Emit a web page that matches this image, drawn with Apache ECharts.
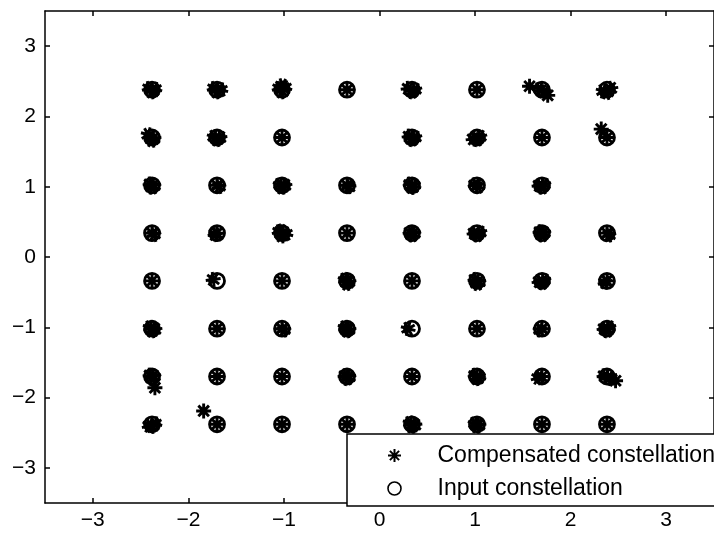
<!DOCTYPE html>
<html>
<head>
<meta charset="utf-8">
<script src="https://cdn.jsdelivr.net/npm/echarts@6/dist/echarts.min.js"></script>
<style>
  html, body { margin: 0; padding: 0; background: #fff; }
  #main { width: 714px; height: 538px; }
</style>
</head>
<body>
<div id="main"></div>
<script>
// constellation levels (both axes) and the two grid points with no input symbol
var levels = [-2.38, -1.70, -1.02, -0.34, 0.34, 1.02, 1.70, 2.38];
var missingInput = [[-0.34, 1.70], [2.38, 1.02]];
var tickValues = [-3, -2, -1, 0, 1, 2, 3];

// compensated points, read row by row from the top (tight clusters give the dark blobs)
var compensated = [
  // y = 2.38
  [-2.41, 2.40], [-2.35, 2.39], [-2.38, 2.35],
  [-1.73, 2.40], [-1.66, 2.38], [-1.70, 2.35],
  [-1.05, 2.40], [-0.99, 2.41], [-1.02, 2.35], [-1.02, 2.44],
  [-0.34, 2.38],
  [0.30, 2.40], [0.37, 2.38], [0.34, 2.35],
  [1.02, 2.38],
  [1.57, 2.43], [1.68, 2.39], [1.72, 2.35], [1.76, 2.30],
  [2.34, 2.36], [2.42, 2.40], [2.38, 2.34],
  // y = 1.70
  [-2.42, 1.74], [-2.36, 1.69], [-2.38, 1.66],
  [-1.73, 1.71], [-1.67, 1.70], [-1.70, 1.67],
  [-1.02, 1.70],
  [0.31, 1.72], [0.37, 1.70], [0.34, 1.67],
  [0.98, 1.68], [1.05, 1.71], [1.02, 1.67],
  [1.70, 1.70],
  [2.32, 1.82], [2.38, 1.70],
  // y = 1.02
  [-2.40, 1.04], [-2.36, 1.01], [-2.38, 0.99],
  [-1.70, 1.02], [-1.68, 1.00],
  [-1.04, 1.03], [-0.99, 1.02], [-1.02, 0.99],
  [-0.34, 1.02], [-0.32, 1.00],
  [0.32, 1.04], [0.36, 1.01], [0.34, 0.99],
  [1.00, 1.03], [1.03, 1.00],
  [1.67, 1.02], [1.72, 1.03], [1.70, 0.99],
  // y = 0.34
  [-2.38, 0.34], [-2.36, 0.32],
  [-1.70, 0.34], [-1.72, 0.32],
  [-1.05, 0.36], [-0.98, 0.33], [-1.02, 0.30], [-1.03, 0.37],
  [-0.34, 0.34],
  [0.32, 0.35], [0.36, 0.33], [0.34, 0.31],
  [0.99, 0.34], [1.05, 0.35], [1.02, 0.31],
  [1.68, 0.36], [1.72, 0.34], [1.70, 0.31],
  [2.38, 0.34], [2.40, 0.31],
  // y = -0.34
  [-2.38, -0.34],
  [-1.74, -0.32],
  [-1.02, -0.34],
  [-0.36, -0.32], [-0.32, -0.35], [-0.34, -0.38],
  [0.34, -0.34],
  [1.00, -0.32], [1.04, -0.36], [1.02, -0.38],
  [1.67, -0.35], [1.72, -0.33], [1.70, -0.37],
  [2.38, -0.34], [2.36, -0.36],
  // y = -1.02
  [-2.40, -1.00], [-2.35, -1.03], [-2.38, -1.05],
  [-1.70, -1.02],
  [-1.02, -1.02], [-1.00, -1.04],
  [-0.36, -1.00], [-0.32, -1.03], [-0.34, -1.05],
  [0.30, -1.02],
  [1.02, -1.02],
  [1.70, -1.02], [1.68, -1.04],
  [2.35, -1.02], [2.40, -1.00], [2.38, -1.05],
  // y = -1.70
  [-2.40, -1.68], [-2.36, -1.70], [-2.38, -1.73], [-2.35, -1.86],
  [-1.70, -1.70],
  [-1.02, -1.70],
  [-0.36, -1.69], [-0.32, -1.71], [-0.34, -1.73],
  [0.34, -1.70],
  [1.00, -1.68], [1.04, -1.71], [1.02, -1.73],
  [1.66, -1.72], [1.70, -1.70],
  [2.35, -1.69], [2.40, -1.71], [2.42, -1.73], [2.47, -1.76],
  // y = -2.38
  [-2.41, -2.40], [-2.35, -2.37], [-2.38, -2.41],
  [-1.70, -2.38], [-1.84, -2.19],
  [-1.02, -2.38],
  [-0.34, -2.38],
  [0.32, -2.36], [0.37, -2.39], [0.34, -2.41],
  [1.00, -2.37], [1.04, -2.39], [1.02, -2.41],
  [1.70, -2.38],
  [2.38, -2.38]
];

var inputPts = [];
levels.forEach(function (y) {
  levels.forEach(function (x) {
    var skip = missingInput.some(function (m) { return m[0] === x && m[1] === y; });
    if (!skip) inputPts.push([x, y]);
  });
});

var asterisk = 'path://M0,-10L0,10M-10,0L10,0M-7.07,-7.07L7.07,7.07M-7.07,7.07L7.07,-7.07';
var fontFam = '"Liberation Sans", Arial, sans-serif';

function fmt(v) {
  return v < 0 ? '\u2212' + Math.abs(v) : String(v);
}

// distance of a coordinate from the nearest constellation level
function off(c) {
  var d = 9;
  levels.forEach(function (l) { d = Math.min(d, Math.abs(c - l)); });
  return d;
}

// jittered points near a level are turned a little so that stacked stars fill in
var rotSteps = [15, 30, 7.5];
var compData = compensated.map(function (p, i) {
  var dx = off(p[0]), dy = off(p[1]);
  var rot = 0;
  if (dx + dy > 0.001 && dx < 0.065 && dy < 0.065) rot = rotSteps[i % 3];
  return { value: p, symbolRotate: rot };
});

function makeAxis(pos, showLabel, isX) {
  return {
    type: 'value',
    position: pos,
    min: -3.5,
    max: 3.5,
    splitLine: { show: false },
    axisLine: { show: true, onZero: false, lineStyle: { color: '#000', width: 1.5 } },
    axisTick: { show: true, inside: true, length: 5, customValues: tickValues,
      lineStyle: { color: '#000', width: 1.5 } },
    axisLabel: { show: showLabel, customValues: tickValues, formatter: fmt,
      color: '#000', fontSize: 21, fontFamily: fontFam, margin: isX ? 7 : 9 }
  };
}

var myChart = echarts.init(document.getElementById('main'));
var option = {
  animation: false,
  backgroundColor: '#fff',
  grid: { left: 45, top: 11, right: -5, bottom: 35 },
  xAxis: [makeAxis('bottom', true, true), makeAxis('top', false, true)],
  yAxis: [makeAxis('left', true, false), makeAxis('right', false, false)],
  legend: {
    orient: 'vertical',
    left: 347,
    top: 434,
    padding: [10, 10, 6, 40],
    itemWidth: 76,
    itemHeight: 13,
    itemGap: 10,
    backgroundColor: '#fff',
    borderColor: '#000',
    borderWidth: 1.5,
    textStyle: { color: '#000', fontSize: 23, lineHeight: 22, fontFamily: fontFam },
    data: [
      { name: 'Compensated constellation', itemStyle: { borderWidth: 2 } },
      { name: 'Input constellation', itemStyle: { borderWidth: 1.6 } }
    ]
  },
  series: [
    {
      name: 'Compensated constellation',
      type: 'scatter',
      symbol: asterisk,
      symbolSize: 15,
      itemStyle: { color: 'rgba(0,0,0,0)', borderColor: '#000', borderWidth: 2.9, opacity: 1 },
      emphasis: { disabled: true },
      data: compData
    },
    {
      name: 'Input constellation',
      type: 'scatter',
      symbol: 'circle',
      symbolSize: 15,
      itemStyle: { color: 'rgba(0,0,0,0)', borderColor: '#000', borderWidth: 2.8, opacity: 1 },
      emphasis: { disabled: true },
      data: inputPts
    }
  ]
};
myChart.setOption(option);
</script>
</body>
</html>
